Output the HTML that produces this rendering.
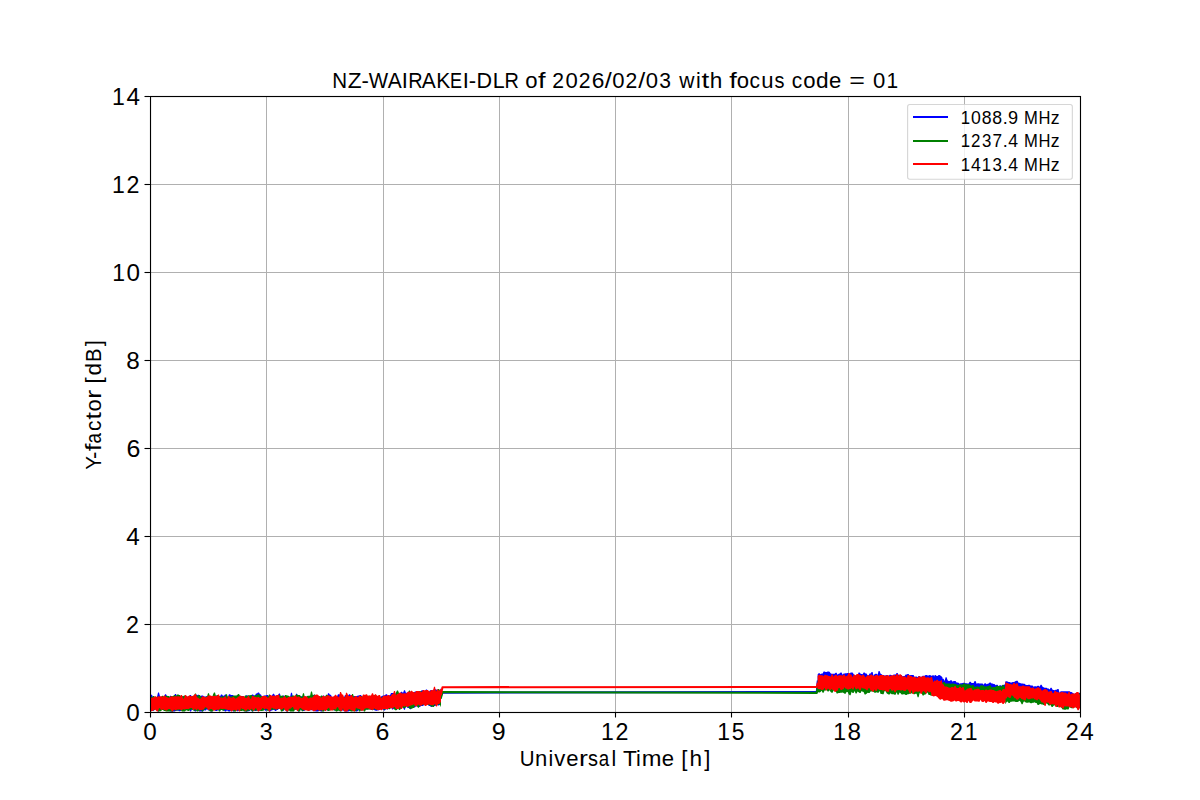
<!DOCTYPE html>
<html><head><meta charset="utf-8">
<style>
html,body{margin:0;padding:0;background:#fff;}
svg{display:block;}
text{font-family:"Liberation Sans",sans-serif;fill:#000;}
</style></head><body>
<svg width="1200" height="800" viewBox="0 0 1200 800">
<rect x="0" y="0" width="1200" height="800" fill="#fff"/>
<g shape-rendering="crispEdges">
<rect x="266" y="96" width="1" height="616" fill="#b0b0b0"/>
<rect x="383" y="96" width="1" height="616" fill="#b0b0b0"/>
<rect x="499" y="96" width="1" height="616" fill="#b0b0b0"/>
<rect x="615" y="96" width="1" height="616" fill="#b0b0b0"/>
<rect x="731" y="96" width="1" height="616" fill="#b0b0b0"/>
<rect x="848" y="96" width="1" height="616" fill="#b0b0b0"/>
<rect x="964" y="96" width="1" height="616" fill="#b0b0b0"/>
<rect x="150" y="624" width="930" height="1" fill="#b0b0b0"/>
<rect x="150" y="536" width="930" height="1" fill="#b0b0b0"/>
<rect x="150" y="448" width="930" height="1" fill="#b0b0b0"/>
<rect x="150" y="360" width="930" height="1" fill="#b0b0b0"/>
<rect x="150" y="272" width="930" height="1" fill="#b0b0b0"/>
<rect x="150" y="184" width="930" height="1" fill="#b0b0b0"/>
</g>
<clipPath id="ax"><rect x="150" y="96" width="930" height="616"/></clipPath>
<g clip-path="url(#ax)">
<path d="M149.0,695.2L150.0,695.2L151.0,694.8L152.0,694.8L153.0,697.2L154.0,697.0L155.0,697.0L156.0,697.0L157.0,697.0L158.0,692.6L159.0,692.6L160.0,696.2L161.0,697.0L162.0,697.2L163.0,697.7L164.0,697.0L165.0,694.3L166.0,694.3L167.0,696.2L168.0,696.2L169.0,697.7L170.0,695.8L171.0,695.8L172.0,697.0L173.0,696.9L174.0,695.8L175.0,693.9L176.0,693.9L177.0,696.2L178.0,694.7L179.0,694.7L180.0,697.1L181.0,696.0L182.0,696.0L183.0,696.4L184.0,696.3L185.0,696.3L186.0,695.9L187.0,695.9L188.0,698.3L189.0,696.2L190.0,694.9L191.0,694.9L192.0,697.2L193.0,696.1L194.0,696.1L195.0,694.6L196.0,694.6L197.0,695.3L198.0,694.8L199.0,694.8L200.0,696.5L201.0,695.7L202.0,695.5L203.0,695.5L204.0,696.5L205.0,696.4L206.0,696.4L207.0,696.1L208.0,696.1L209.0,696.6L210.0,697.0L211.0,697.0L212.0,696.7L213.0,696.7L214.0,698.5L215.0,696.3L216.0,695.5L217.0,695.5L218.0,697.4L219.0,696.4L220.0,696.4L221.0,694.4L222.0,694.4L223.0,695.8L224.0,695.8L225.0,694.6L226.0,694.6L227.0,696.5L228.0,696.6L229.0,694.2L230.0,694.2L231.0,695.1L232.0,694.9L233.0,694.9L234.0,695.9L235.0,696.9L236.0,697.3L237.0,695.0L238.0,695.0L239.0,697.8L240.0,696.8L241.0,696.2L242.0,696.0L243.0,696.0L244.0,698.5L245.0,696.8L246.0,695.2L247.0,695.2L248.0,695.7L249.0,696.3L250.0,695.7L251.0,695.7L252.0,694.5L253.0,694.5L254.0,695.4L255.0,695.4L256.0,693.5L257.0,693.5L258.0,692.6L259.0,692.6L260.0,694.3L261.0,694.4L262.0,696.8L263.0,696.8L264.0,695.6L265.0,695.6L266.0,695.3L267.0,695.1L268.0,695.1L269.0,697.4L270.0,697.1L271.0,696.2L272.0,695.6L273.0,693.8L274.0,693.8L275.0,695.7L276.0,695.7L277.0,695.1L278.0,695.1L279.0,693.5L280.0,693.5L281.0,697.9L282.0,697.9L283.0,695.6L284.0,695.6L285.0,696.5L286.0,697.8L287.0,696.9L288.0,696.9L289.0,698.5L290.0,697.2L291.0,692.7L292.0,692.7L293.0,697.8L294.0,697.9L295.0,698.2L296.0,693.8L297.0,693.8L298.0,696.0L299.0,696.3L300.0,696.3L301.0,696.3L302.0,696.3L303.0,697.0L304.0,696.3L305.0,696.3L306.0,696.8L307.0,696.8L308.0,697.2L309.0,695.8L310.0,695.8L311.0,696.4L312.0,695.2L313.0,695.2L314.0,694.8L315.0,694.8L316.0,695.6L317.0,695.6L318.0,696.9L319.0,696.7L320.0,696.5L321.0,696.5L322.0,696.5L323.0,695.5L324.0,695.5L325.0,697.5L326.0,696.8L327.0,696.8L328.0,693.3L329.0,693.3L330.0,694.8L331.0,694.8L332.0,697.6L333.0,697.2L334.0,696.2L335.0,696.2L336.0,696.2L337.0,696.2L338.0,694.2L339.0,694.2L340.0,694.5L341.0,694.5L342.0,696.9L343.0,697.2L344.0,697.2L345.0,694.9L346.0,694.9L347.0,695.2L348.0,695.7L349.0,694.3L350.0,694.3L351.0,695.8L352.0,695.8L353.0,697.1L354.0,696.0L355.0,696.0L356.0,696.1L357.0,696.1L358.0,695.6L359.0,695.6L360.0,694.9L361.0,694.9L362.0,696.6L363.0,697.5L364.0,695.4L365.0,695.4L366.0,697.6L367.0,697.8L368.0,697.9L369.0,697.9L370.0,697.2L371.0,697.2L372.0,695.5L373.0,695.4L374.0,695.4L375.0,696.4L376.0,696.4L377.0,696.7L378.0,696.2L379.0,696.2L380.0,697.2L381.0,696.4L382.0,696.0L383.0,695.6L384.0,695.6L385.0,694.9L386.0,694.2L387.0,694.2L388.0,696.0L389.0,695.2L390.0,695.2L391.0,693.0L392.0,693.0L393.0,693.1L394.0,693.1L395.0,695.0L396.0,692.6L397.0,692.6L398.0,694.7L399.0,694.1L400.0,694.1L401.0,691.7L402.0,691.7L403.0,693.0L404.0,690.3L405.0,690.3L406.0,693.1L407.0,692.4L408.0,692.4L409.0,694.2L410.0,694.2L411.0,694.9L412.0,693.8L413.0,692.8L414.0,692.3L415.0,691.4L416.0,691.4L417.0,692.0L418.0,691.5L419.0,691.5L420.0,691.9L421.0,690.8L422.0,690.3L423.0,690.3L424.0,691.9L425.0,691.1L426.0,689.5L427.0,689.5L428.0,691.7L429.0,691.8L430.0,690.3L431.0,690.3L432.0,690.7L433.0,689.7L434.0,689.7L435.0,689.3L436.0,689.3L437.0,690.0L438.0,690.4L439.0,690.4L440.0,691.0L441.0,688.0L441.0,704.8L440.0,704.8L439.0,705.6L438.0,705.6L437.0,704.3L436.0,705.6L435.0,706.0L434.0,706.0L433.0,706.3L432.0,706.9L431.0,706.9L430.0,705.9L429.0,705.9L428.0,705.0L427.0,704.2L426.0,704.2L425.0,704.2L424.0,705.1L423.0,706.0L422.0,706.0L421.0,706.0L420.0,707.0L419.0,707.0L418.0,706.5L417.0,706.5L416.0,706.3L415.0,707.6L414.0,707.6L413.0,707.1L412.0,707.1L411.0,709.2L410.0,709.2L409.0,708.0L408.0,708.0L407.0,707.5L406.0,705.0L405.0,709.8L404.0,709.8L403.0,706.7L402.0,707.7L401.0,707.7L400.0,706.8L399.0,706.5L398.0,707.4L397.0,708.1L396.0,708.1L395.0,708.3L394.0,708.4L393.0,709.6L392.0,709.6L391.0,706.8L390.0,706.8L389.0,707.5L388.0,709.6L387.0,709.6L386.0,708.2L385.0,710.5L384.0,710.5L383.0,709.3L382.0,709.3L381.0,708.1L380.0,709.5L379.0,710.3L378.0,710.3L377.0,710.8L376.0,710.8L375.0,710.4L374.0,709.9L373.0,709.3L372.0,709.9L371.0,709.9L370.0,709.2L369.0,709.2L368.0,708.9L367.0,709.4L366.0,709.4L365.0,709.0L364.0,709.0L363.0,710.1L362.0,710.4L361.0,710.4L360.0,710.1L359.0,709.4L358.0,710.7L357.0,711.6L356.0,711.6L355.0,711.1L354.0,710.9L353.0,710.5L352.0,708.4L351.0,709.5L350.0,710.8L349.0,711.2L348.0,711.5L347.0,711.5L346.0,711.6L345.0,711.6L344.0,710.7L343.0,710.6L342.0,710.6L341.0,709.9L340.0,709.9L339.0,709.8L338.0,709.2L337.0,707.4L336.0,709.2L335.0,710.4L334.0,710.4L333.0,707.2L332.0,710.1L331.0,710.1L330.0,710.1L329.0,709.3L328.0,710.4L327.0,710.4L326.0,709.7L325.0,710.5L324.0,710.5L323.0,709.7L322.0,711.6L321.0,711.6L320.0,710.9L319.0,710.9L318.0,711.4L317.0,711.6L316.0,711.6L315.0,711.2L314.0,711.2L313.0,710.3L312.0,710.3L311.0,710.2L310.0,709.9L309.0,709.8L308.0,709.8L307.0,709.2L306.0,708.8L305.0,710.6L304.0,710.9L303.0,710.9L302.0,710.7L301.0,710.1L300.0,708.3L299.0,711.6L298.0,711.6L297.0,709.4L296.0,709.4L295.0,709.8L294.0,710.6L293.0,710.6L292.0,711.1L291.0,711.1L290.0,710.4L289.0,710.4L288.0,709.5L287.0,711.6L286.0,711.6L285.0,707.9L284.0,710.4L283.0,710.9L282.0,710.9L281.0,708.9L280.0,707.8L279.0,708.4L278.0,709.9L277.0,709.9L276.0,710.9L275.0,710.9L274.0,709.5L273.0,710.2L272.0,710.2L271.0,711.0L270.0,711.6L269.0,711.6L268.0,709.8L267.0,710.3L266.0,710.7L265.0,710.7L264.0,709.0L263.0,709.0L262.0,708.5L261.0,709.9L260.0,709.9L259.0,710.1L258.0,710.6L257.0,710.6L256.0,710.9L255.0,710.9L254.0,710.3L253.0,711.6L252.0,711.6L251.0,710.0L250.0,710.8L249.0,711.3L248.0,711.3L247.0,711.6L246.0,711.6L245.0,711.0L244.0,710.5L243.0,709.9L242.0,709.6L241.0,709.8L240.0,709.8L239.0,710.3L238.0,711.2L237.0,711.2L236.0,708.9L235.0,709.4L234.0,711.6L233.0,711.6L232.0,710.0L231.0,710.6L230.0,711.6L229.0,711.6L228.0,711.2L227.0,710.3L226.0,711.6L225.0,711.6L224.0,710.5L223.0,710.5L222.0,709.9L221.0,708.8L220.0,708.7L219.0,710.3L218.0,710.3L217.0,710.9L216.0,710.9L215.0,710.8L214.0,709.6L213.0,710.2L212.0,711.6L211.0,711.6L210.0,710.2L209.0,710.6L208.0,710.6L207.0,709.0L206.0,710.4L205.0,710.4L204.0,710.3L203.0,711.4L202.0,711.4L201.0,711.6L200.0,711.6L199.0,711.6L198.0,709.7L197.0,709.7L196.0,711.4L195.0,711.4L194.0,710.8L193.0,709.4L192.0,709.4L191.0,711.4L190.0,711.4L189.0,708.4L188.0,709.5L187.0,709.5L186.0,709.4L185.0,710.8L184.0,710.8L183.0,710.7L182.0,709.6L181.0,710.8L180.0,711.2L179.0,711.2L178.0,710.5L177.0,710.7L176.0,710.7L175.0,711.6L174.0,711.6L173.0,711.6L172.0,711.6L171.0,711.6L170.0,711.6L169.0,711.1L168.0,710.0L167.0,710.0L166.0,709.2L165.0,708.7L164.0,708.3L163.0,709.8L162.0,709.8L161.0,708.1L160.0,709.2L159.0,711.6L158.0,711.6L157.0,708.6L156.0,708.6L155.0,709.3L154.0,710.8L153.0,710.8L152.0,709.7L151.0,710.8L150.0,711.6L149.0,711.6ZM817.6,674.4L818.6,673.2L819.6,673.2L820.6,674.2L821.6,673.4L822.6,673.4L823.6,671.6L824.6,671.6L825.6,672.0L826.6,672.0L827.6,671.5L828.6,671.5L829.6,671.8L830.6,673.3L831.6,673.7L832.6,673.8L833.6,673.8L834.6,673.8L835.6,672.7L836.6,672.7L837.6,674.7L838.6,673.7L839.6,673.6L840.6,672.6L841.6,672.6L842.6,674.8L843.6,673.6L844.6,673.5L845.6,673.2L846.6,673.2L847.6,672.9L848.6,672.9L849.6,673.9L850.6,672.5L851.6,672.5L852.6,672.6L853.6,674.0L854.6,675.6L855.6,675.3L856.6,675.3L857.6,674.9L858.6,672.4L859.6,672.4L860.6,673.7L861.6,674.1L862.6,674.3L863.6,672.6L864.6,672.6L865.6,673.6L866.6,673.6L867.6,675.3L868.6,675.3L869.6,673.6L870.6,673.6L871.6,672.1L872.6,672.1L873.6,675.9L874.6,673.9L875.6,673.8L876.6,673.8L877.6,674.8L878.6,671.1L879.6,671.1L880.6,673.8L881.6,674.3L882.6,674.9L883.6,674.9L884.6,675.6L885.6,675.6L886.6,674.9L887.6,674.9L888.6,676.2L889.6,674.8L890.6,674.8L891.6,675.3L892.6,675.5L893.6,674.5L894.6,674.5L895.6,674.5L896.6,672.9L897.6,672.9L898.6,674.7L899.6,675.8L900.6,675.1L901.6,675.1L902.6,676.4L903.6,676.1L904.6,676.1L905.6,674.4L906.6,674.4L907.6,674.1L908.6,674.1L909.6,675.5L910.6,674.9L911.6,674.9L912.6,674.9L913.6,674.9L914.6,677.1L915.6,676.6L916.6,676.6L917.6,677.3L918.6,676.1L919.6,676.1L920.6,676.8L921.6,677.1L922.6,675.8L923.6,675.7L924.6,675.7L925.6,675.1L926.6,675.1L927.6,675.4L928.6,675.4L929.6,675.0L930.5,675.0L930.6,675.5L931.6,675.7L932.0,675.7L932.6,675.2L933.6,675.2L933.8,675.5L934.4,676.4L934.6,674.9L935.6,674.9L936.6,676.0L937.6,676.0L938.6,674.9L939.6,674.9L940.6,675.8L941.0,675.8L941.6,676.5L942.5,677.4L942.6,678.8L943.6,678.8L944.6,681.1L945.6,677.2L946.6,677.2L947.6,680.3L948.6,680.9L949.6,680.9L950.6,680.3L951.6,680.3L952.6,681.8L953.6,680.9L954.6,680.9L955.6,681.1L956.6,682.4L957.6,682.4L958.6,682.8L959.6,683.8L960.6,683.2L961.6,683.2L962.6,683.1L963.6,682.8L964.6,682.8L965.6,683.2L966.6,683.2L967.6,683.5L968.6,683.5L969.6,681.7L970.6,681.7L971.6,683.0L972.6,682.9L973.6,682.9L974.6,680.9L975.6,680.9L976.6,683.7L977.6,683.2L978.6,683.2L979.6,683.6L980.6,683.6L981.6,683.4L982.6,683.4L983.6,684.7L984.6,683.2L985.6,683.2L986.6,684.2L987.6,683.8L988.6,683.6L989.6,682.5L990.6,682.5L991.6,683.5L992.6,683.5L993.6,684.1L994.6,684.1L995.6,685.2L996.6,684.7L997.6,684.7L998.6,686.4L999.6,685.2L1000.6,685.2L1001.6,685.7L1002.6,684.9L1003.6,684.9L1004.6,684.5L1004.8,684.5L1005.4,681.5L1005.6,681.2L1006.6,681.2L1007.6,681.6L1008.6,681.9L1009.6,682.0L1010.6,682.4L1011.6,682.4L1012.6,681.9L1013.6,681.9L1014.6,681.8L1015.6,681.0L1016.6,680.8L1017.6,680.8L1018.6,682.7L1019.6,682.7L1020.6,683.3L1021.6,683.4L1022.6,683.6L1023.6,683.7L1024.6,683.7L1025.6,684.8L1026.6,685.0L1027.6,685.0L1028.6,684.8L1029.6,684.8L1030.6,685.6L1031.6,685.4L1032.6,685.4L1033.6,686.8L1034.6,686.2L1035.6,686.2L1036.6,686.4L1037.6,685.7L1038.6,685.7L1039.6,686.8L1040.6,684.7L1041.6,684.7L1042.6,686.7L1043.6,687.2L1044.6,687.7L1045.6,687.7L1046.6,687.7L1047.6,688.4L1048.6,688.4L1049.6,689.6L1050.6,687.7L1051.6,687.7L1052.6,689.7L1053.6,689.9L1054.6,690.3L1055.6,689.7L1056.6,689.7L1057.6,689.0L1058.6,689.0L1059.6,693.0L1060.6,691.2L1061.6,691.2L1062.6,691.3L1063.6,691.3L1064.6,691.3L1065.6,691.3L1066.6,691.2L1067.6,691.2L1068.6,691.3L1069.6,691.3L1070.6,691.9L1071.6,691.9L1072.6,692.7L1073.6,693.6L1074.6,694.1L1075.6,692.9L1076.6,692.9L1077.6,693.1L1078.6,693.1L1079.6,692.7L1080.6,692.7L1080.6,707.2L1079.6,704.7L1078.6,706.9L1077.6,707.0L1076.6,707.0L1075.6,706.2L1074.6,706.1L1073.6,706.1L1072.6,705.7L1071.6,705.7L1070.6,705.5L1069.6,705.3L1068.6,705.1L1067.6,704.0L1066.6,704.5L1065.6,705.0L1064.6,705.5L1063.6,705.5L1062.6,702.5L1061.6,703.1L1060.6,704.1L1059.6,704.1L1058.6,704.8L1057.6,704.8L1056.6,704.6L1055.6,703.1L1054.6,703.4L1053.6,704.6L1052.6,705.4L1051.6,705.4L1050.6,702.5L1049.6,703.5L1048.6,703.5L1047.6,700.1L1046.6,700.7L1045.6,700.8L1044.6,702.2L1043.6,702.2L1042.6,699.6L1041.6,702.5L1040.6,702.5L1039.6,699.1L1038.6,699.7L1037.6,700.9L1036.6,701.0L1035.6,701.0L1034.6,700.0L1033.6,700.0L1032.6,698.5L1031.6,698.9L1030.6,699.3L1029.6,699.3L1028.6,698.8L1027.6,696.8L1026.6,697.7L1025.6,697.7L1024.6,699.4L1023.6,699.4L1022.6,696.3L1021.6,696.4L1020.6,696.5L1019.6,698.0L1018.6,698.0L1017.6,697.2L1016.6,695.3L1015.6,696.8L1014.6,696.8L1013.6,694.5L1012.6,695.3L1011.6,695.3L1010.6,696.9L1009.6,696.9L1008.6,693.6L1007.6,693.6L1006.6,693.4L1005.6,694.4L1005.4,696.1L1004.8,697.0L1004.6,697.1L1003.6,697.8L1002.6,698.1L1001.6,698.9L1000.6,698.9L999.6,700.5L998.6,700.5L997.6,698.7L996.6,698.6L995.6,698.9L994.6,698.9L993.6,698.6L992.6,696.9L991.6,697.5L990.6,697.5L989.6,697.1L988.6,696.8L987.6,696.0L986.6,696.0L985.6,695.9L984.6,695.9L983.6,697.4L982.6,697.4L981.6,696.9L980.6,695.5L979.6,695.2L978.6,695.9L977.6,695.9L976.6,695.4L975.6,696.6L974.6,697.5L973.6,697.5L972.6,696.0L971.6,697.3L970.6,697.3L969.6,696.1L968.6,697.8L967.6,697.8L966.6,695.1L965.6,698.3L964.6,698.3L963.6,695.9L962.6,695.9L961.6,694.9L960.6,694.2L959.6,692.6L958.6,692.8L957.6,692.8L956.6,692.2L955.6,692.8L954.6,692.8L953.6,692.8L952.6,692.2L951.6,692.3L950.6,692.3L949.6,693.8L948.6,693.8L947.6,690.9L946.6,690.9L945.6,690.7L944.6,692.2L943.6,692.2L942.6,690.0L942.5,692.0L941.6,692.0L941.0,687.4L940.6,687.4L939.6,690.7L938.6,690.7L937.6,689.4L936.6,688.2L935.6,689.9L934.6,689.9L934.4,690.5L933.8,690.5L933.6,688.8L932.6,688.8L932.0,688.8L931.6,688.4L930.6,688.4L930.5,689.7L929.6,689.7L928.6,689.1L927.6,690.7L926.6,690.7L925.6,687.9L924.6,687.9L923.6,689.1L922.6,689.1L921.6,688.0L920.6,690.0L919.6,690.0L918.6,688.5L917.6,688.2L916.6,689.2L915.6,689.7L914.6,689.7L913.6,689.2L912.6,689.2L911.6,687.7L910.6,689.3L909.6,689.8L908.6,689.8L907.6,688.5L906.6,688.0L905.6,687.3L904.6,690.9L903.6,690.9L902.6,687.9L901.6,687.7L900.6,689.0L899.6,689.0L898.6,686.4L897.6,687.9L896.6,689.0L895.6,689.0L894.6,688.4L893.6,686.7L892.6,687.7L891.6,687.7L890.6,687.9L889.6,687.9L888.6,685.6L887.6,686.1L886.6,686.6L885.6,686.6L884.6,686.1L883.6,688.5L882.6,688.5L881.6,687.6L880.6,687.6L879.6,686.9L878.6,687.5L877.6,687.7L876.6,687.7L875.6,687.1L874.6,687.1L873.6,685.9L872.6,685.9L871.6,688.2L870.6,688.7L869.6,688.7L868.6,687.8L867.6,688.4L866.6,688.4L865.6,687.9L864.6,687.9L863.6,687.5L862.6,687.3L861.6,687.3L860.6,687.2L859.6,687.2L858.6,688.4L857.6,688.4L856.6,686.7L855.6,686.7L854.6,687.3L853.6,687.3L852.6,687.8L851.6,687.8L850.6,689.0L849.6,689.0L848.6,686.9L847.6,688.5L846.6,688.5L845.6,687.6L844.6,685.7L843.6,686.2L842.6,687.7L841.6,687.7L840.6,687.3L839.6,688.4L838.6,688.4L837.6,686.4L836.6,687.2L835.6,687.2L834.6,686.9L833.6,686.1L832.6,688.0L831.6,688.0L830.6,688.5L829.6,688.5L828.6,686.9L827.6,685.1L826.6,685.2L825.6,685.9L824.6,686.6L823.6,686.6L822.6,686.3L821.6,686.0L820.6,686.0L819.6,687.6L818.6,687.6L817.6,686.5Z" fill="#0000ff"/>
<path d="M440.7,696.4L442.5,692.6L816.8,691.9L817.8,680.5" fill="none" stroke="#0000ff" stroke-width="2.08" stroke-linejoin="round"/>
<path d="M149.0,698.7L150.0,696.6L151.0,696.6L152.0,697.4L153.0,695.9L154.0,695.9L155.0,696.9L156.0,697.3L157.0,696.7L158.0,696.7L159.0,698.2L160.0,697.6L161.0,697.6L162.0,695.7L163.0,695.7L164.0,696.8L165.0,696.7L166.0,695.8L167.0,695.8L168.0,695.9L169.0,695.9L170.0,697.2L171.0,696.1L172.0,696.1L173.0,696.2L174.0,694.9L175.0,694.9L176.0,696.5L177.0,694.4L178.0,694.4L179.0,695.1L180.0,695.1L181.0,696.3L182.0,696.3L183.0,696.6L184.0,695.6L185.0,695.6L186.0,697.0L187.0,697.0L188.0,696.4L189.0,695.9L190.0,695.9L191.0,697.0L192.0,696.3L193.0,695.7L194.0,695.7L195.0,693.6L196.0,693.6L197.0,696.8L198.0,695.4L199.0,695.0L200.0,695.0L201.0,696.9L202.0,696.9L203.0,697.7L204.0,697.9L205.0,697.9L206.0,696.6L207.0,696.4L208.0,693.2L209.0,693.2L210.0,697.1L211.0,697.1L212.0,697.7L213.0,694.6L214.0,692.5L215.0,692.5L216.0,696.3L217.0,694.9L218.0,694.9L219.0,696.0L220.0,696.0L221.0,697.6L222.0,696.1L223.0,696.1L224.0,697.3L225.0,696.2L226.0,694.3L227.0,694.3L228.0,698.1L229.0,696.3L230.0,696.3L231.0,697.1L232.0,695.9L233.0,695.9L234.0,695.6L235.0,695.6L236.0,695.6L237.0,695.6L238.0,694.0L239.0,694.0L240.0,695.7L241.0,695.7L242.0,696.7L243.0,697.5L244.0,697.3L245.0,695.6L246.0,695.6L247.0,696.5L248.0,695.3L249.0,695.2L250.0,695.2L251.0,695.0L252.0,695.0L253.0,697.0L254.0,696.1L255.0,695.1L256.0,695.1L257.0,695.6L258.0,694.0L259.0,694.0L260.0,695.8L261.0,695.8L262.0,696.8L263.0,695.9L264.0,695.9L265.0,696.1L266.0,696.4L267.0,696.4L268.0,696.7L269.0,694.5L270.0,694.5L271.0,696.2L272.0,698.0L273.0,695.9L274.0,695.9L275.0,696.4L276.0,698.1L277.0,697.7L278.0,697.4L279.0,695.3L280.0,695.3L281.0,695.9L282.0,695.5L283.0,695.5L284.0,697.5L285.0,694.9L286.0,694.9L287.0,695.5L288.0,695.5L289.0,696.0L290.0,696.8L291.0,696.8L292.0,695.6L293.0,695.4L294.0,695.4L295.0,696.5L296.0,694.6L297.0,694.6L298.0,695.0L299.0,694.9L300.0,694.9L301.0,696.7L302.0,696.7L303.0,693.3L304.0,693.3L305.0,698.3L306.0,697.7L307.0,696.0L308.0,695.8L309.0,695.8L310.0,696.1L311.0,691.4L312.0,691.4L313.0,696.1L314.0,694.6L315.0,694.6L316.0,698.1L317.0,696.1L318.0,696.1L319.0,697.1L320.0,697.8L321.0,695.5L322.0,695.5L323.0,696.4L324.0,696.4L325.0,697.0L326.0,694.7L327.0,694.7L328.0,695.4L329.0,695.4L330.0,697.1L331.0,697.1L332.0,697.0L333.0,697.0L334.0,698.0L335.0,696.2L336.0,696.2L337.0,698.2L338.0,698.2L339.0,698.2L340.0,698.7L341.0,699.0L342.0,697.3L343.0,697.3L344.0,698.6L345.0,696.7L346.0,696.7L347.0,697.2L348.0,697.2L349.0,698.0L350.0,698.8L351.0,698.8L352.0,694.1L353.0,694.1L354.0,696.9L355.0,698.2L356.0,699.2L357.0,698.0L358.0,698.0L359.0,697.9L360.0,696.0L361.0,696.0L362.0,696.4L363.0,696.4L364.0,697.1L365.0,697.1L366.0,696.6L367.0,696.6L368.0,695.8L369.0,695.8L370.0,695.8L371.0,698.8L372.0,696.2L373.0,695.5L374.0,695.5L375.0,694.8L376.0,694.8L377.0,696.7L378.0,695.7L379.0,695.7L380.0,697.9L381.0,697.4L382.0,697.4L383.0,696.2L384.0,696.2L385.0,696.2L386.0,697.5L387.0,695.9L388.0,695.9L389.0,696.4L390.0,696.4L391.0,697.6L392.0,694.4L393.0,694.0L394.0,694.0L395.0,695.2L396.0,692.6L397.0,690.4L398.0,690.4L399.0,693.0L400.0,693.0L401.0,694.1L402.0,693.7L403.0,693.7L404.0,694.5L405.0,694.5L406.0,695.3L407.0,695.3L408.0,693.3L409.0,690.4L410.0,690.4L411.0,693.6L412.0,692.4L413.0,692.4L414.0,694.2L415.0,693.6L416.0,692.4L417.0,692.4L418.0,692.2L419.0,691.1L420.0,691.1L421.0,691.5L422.0,691.8L423.0,691.8L424.0,692.4L425.0,692.4L426.0,692.4L427.0,693.1L428.0,693.5L429.0,693.5L430.0,693.1L431.0,693.1L432.0,693.2L433.0,693.9L434.0,691.5L435.0,691.0L436.0,691.0L437.0,691.3L438.0,689.1L439.0,689.1L440.0,690.6L441.0,690.4L441.0,707.2L440.0,705.1L439.0,704.5L438.0,704.5L437.0,705.3L436.0,705.3L435.0,704.1L434.0,706.9L433.0,706.9L432.0,706.5L431.0,706.5L430.0,705.3L429.0,705.3L428.0,704.7L427.0,704.7L426.0,705.3L425.0,705.3L424.0,704.6L423.0,704.6L422.0,705.6L421.0,705.6L420.0,703.9L419.0,707.7L418.0,707.7L417.0,706.2L416.0,704.3L415.0,705.5L414.0,708.1L413.0,708.1L412.0,708.8L411.0,708.8L410.0,708.4L409.0,708.4L408.0,705.7L407.0,706.0L406.0,707.4L405.0,707.7L404.0,708.2L403.0,708.2L402.0,706.4L401.0,708.6L400.0,710.1L399.0,710.1L398.0,708.3L397.0,710.1L396.0,710.3L395.0,710.3L394.0,708.9L393.0,707.5L392.0,707.9L391.0,707.9L390.0,709.3L389.0,709.3L388.0,708.5L387.0,708.5L386.0,709.6L385.0,709.6L384.0,709.5L383.0,708.9L382.0,708.9L381.0,708.9L380.0,709.5L379.0,709.5L378.0,707.5L377.0,710.0L376.0,710.0L375.0,709.0L374.0,708.9L373.0,710.3L372.0,710.3L371.0,709.1L370.0,709.4L369.0,709.4L368.0,709.7L367.0,709.7L366.0,709.6L365.0,711.6L364.0,711.6L363.0,709.9L362.0,710.2L361.0,710.2L360.0,711.6L359.0,711.6L358.0,709.1L357.0,710.0L356.0,710.9L355.0,711.3L354.0,711.3L353.0,711.2L352.0,711.6L351.0,711.6L350.0,711.0L349.0,710.0L348.0,709.3L347.0,710.1L346.0,710.1L345.0,710.8L344.0,710.8L343.0,709.5L342.0,709.5L341.0,711.4L340.0,711.4L339.0,710.7L338.0,710.7L337.0,711.6L336.0,711.6L335.0,710.6L334.0,710.2L333.0,710.2L332.0,709.9L331.0,709.9L330.0,710.6L329.0,711.0L328.0,711.0L327.0,709.9L326.0,709.3L325.0,709.3L324.0,711.6L323.0,711.6L322.0,711.4L321.0,708.8L320.0,710.9L319.0,710.9L318.0,709.4L317.0,709.0L316.0,708.2L315.0,708.4L314.0,710.0L313.0,710.0L312.0,709.0L311.0,710.1L310.0,710.2L309.0,710.6L308.0,710.6L307.0,709.9L306.0,709.9L305.0,709.8L304.0,709.8L303.0,711.3L302.0,711.3L301.0,709.2L300.0,711.6L299.0,711.6L298.0,711.3L297.0,709.5L296.0,709.5L295.0,709.5L294.0,711.6L293.0,711.6L292.0,711.6L291.0,711.6L290.0,711.6L289.0,710.1L288.0,711.6L287.0,711.6L286.0,710.2L285.0,710.2L284.0,709.1L283.0,711.1L282.0,711.6L281.0,711.6L280.0,708.6L279.0,708.6L278.0,708.9L277.0,709.4L276.0,709.4L275.0,709.4L274.0,709.4L273.0,709.7L272.0,709.7L271.0,709.7L270.0,710.1L269.0,710.4L268.0,710.8L267.0,710.8L266.0,708.2L265.0,709.3L264.0,710.6L263.0,710.7L262.0,711.0L261.0,711.0L260.0,710.7L259.0,710.7L258.0,710.4L257.0,710.5L256.0,710.5L255.0,710.6L254.0,710.6L253.0,711.5L252.0,711.5L251.0,710.1L250.0,710.1L249.0,710.7L248.0,710.7L247.0,711.4L246.0,711.4L245.0,711.6L244.0,711.6L243.0,710.6L242.0,711.1L241.0,711.1L240.0,711.1L239.0,710.4L238.0,710.4L237.0,709.1L236.0,711.6L235.0,711.6L234.0,711.6L233.0,710.2L232.0,709.7L231.0,709.1L230.0,708.1L229.0,710.0L228.0,710.0L227.0,709.3L226.0,709.4L225.0,709.4L224.0,710.7L223.0,710.7L222.0,710.1L221.0,710.1L220.0,711.6L219.0,711.6L218.0,709.4L217.0,709.7L216.0,709.7L215.0,709.5L214.0,709.0L213.0,711.6L212.0,711.6L211.0,711.6L210.0,711.6L209.0,710.6L208.0,709.3L207.0,708.4L206.0,708.4L205.0,709.5L204.0,709.5L203.0,711.4L202.0,711.4L201.0,709.6L200.0,710.5L199.0,710.5L198.0,711.6L197.0,711.6L196.0,710.2L195.0,710.8L194.0,710.8L193.0,710.3L192.0,709.4L191.0,709.4L190.0,709.9L189.0,710.9L188.0,710.9L187.0,710.5L186.0,710.3L185.0,711.6L184.0,711.6L183.0,711.6L182.0,711.6L181.0,710.6L180.0,709.9L179.0,709.9L178.0,710.5L177.0,710.5L176.0,710.5L175.0,710.5L174.0,709.5L173.0,711.5L172.0,711.6L171.0,711.6L170.0,711.3L169.0,711.6L168.0,711.6L167.0,711.6L166.0,711.6L165.0,710.9L164.0,710.9L163.0,710.0L162.0,710.1L161.0,711.2L160.0,711.2L159.0,711.6L158.0,711.6L157.0,710.2L156.0,710.2L155.0,708.8L154.0,710.3L153.0,710.3L152.0,710.2L151.0,709.1L150.0,710.7L149.0,710.7ZM817.6,680.5L818.6,679.8L819.6,679.8L820.6,680.0L821.6,680.0L822.6,678.0L823.6,678.0L824.6,678.3L825.6,678.9L826.6,679.0L827.6,679.7L828.6,679.2L829.6,679.2L830.6,679.9L831.6,680.0L832.6,679.6L833.6,679.6L834.6,680.8L835.6,681.2L836.6,681.2L837.6,680.5L838.6,680.5L839.6,681.3L840.6,680.8L841.6,680.7L842.6,678.9L843.6,678.9L844.6,681.3L845.6,681.3L846.6,682.0L847.6,682.0L848.6,680.8L849.6,680.8L850.6,681.5L851.6,680.5L852.6,680.5L853.6,680.2L854.6,680.2L855.6,682.4L856.6,682.0L857.6,682.0L858.6,681.4L859.6,681.4L860.6,682.8L861.6,680.2L862.6,680.2L863.6,680.8L864.6,680.8L865.6,680.8L866.6,680.1L867.6,680.1L868.6,680.1L869.6,680.1L870.6,680.2L871.6,680.3L872.6,680.3L873.6,680.1L874.6,680.1L875.6,681.3L876.6,683.0L877.6,680.5L878.6,680.5L879.6,681.2L880.6,681.2L881.6,680.2L882.6,680.2L883.6,681.0L884.6,681.2L885.6,681.8L886.6,680.2L887.6,680.2L888.6,682.3L889.6,680.0L890.6,680.0L891.6,680.1L892.6,681.4L893.6,681.4L894.6,681.5L895.6,679.2L896.6,679.2L897.6,680.8L898.6,682.6L899.6,681.7L900.6,681.7L901.6,681.9L902.6,682.0L903.6,682.0L904.6,682.2L905.6,682.2L906.6,682.1L907.6,678.0L908.6,678.0L909.6,679.5L910.6,682.0L911.6,680.5L912.6,680.1L913.6,680.1L914.6,680.2L915.6,680.2L916.6,682.2L917.6,682.2L918.6,683.3L919.6,683.1L920.6,681.2L921.6,681.2L922.6,682.3L923.6,683.2L924.6,683.2L925.6,683.7L926.6,682.9L927.6,682.9L928.6,683.0L929.6,683.0L930.5,681.8L930.6,681.8L931.6,682.4L932.0,682.4L932.6,682.3L933.6,682.3L933.8,682.9L934.4,682.9L934.6,683.2L935.6,683.2L936.6,682.7L937.6,682.7L938.6,684.3L939.6,684.9L940.6,684.9L941.0,683.3L941.6,683.3L942.5,682.9L942.6,682.7L943.6,682.0L944.6,682.0L945.6,683.4L946.6,683.4L947.6,683.5L948.6,683.5L949.6,683.5L950.6,683.7L951.6,683.7L952.6,683.4L953.6,683.4L954.6,684.1L955.6,684.1L956.6,684.5L957.6,685.1L958.6,684.7L959.6,684.3L960.6,684.3L961.6,684.5L962.6,684.5L963.6,683.3L964.6,683.3L965.6,684.2L966.6,684.2L967.6,684.2L968.6,684.2L969.6,684.2L970.6,685.5L971.6,685.5L972.6,685.1L973.6,685.1L974.6,687.1L975.6,687.1L976.6,686.2L977.6,686.2L978.6,686.7L979.6,686.9L980.6,685.2L981.6,685.2L982.6,685.6L983.6,685.6L984.6,686.4L985.6,686.4L986.6,686.5L987.6,686.0L988.6,686.0L989.6,685.3L990.6,685.3L991.6,687.5L992.6,687.1L993.6,687.1L994.6,686.9L995.6,686.9L996.6,685.8L997.6,685.8L998.6,686.0L999.6,686.0L1000.6,686.3L1001.6,686.5L1002.6,684.7L1003.6,684.7L1004.6,687.0L1004.8,687.0L1005.4,687.1L1005.6,687.2L1006.6,687.5L1007.6,687.5L1008.6,687.6L1009.6,687.6L1010.6,688.2L1011.6,686.8L1012.6,686.8L1013.6,687.7L1014.6,687.7L1015.6,687.7L1016.6,687.7L1017.6,688.0L1018.6,688.0L1019.6,688.7L1020.6,688.7L1021.6,689.6L1022.6,689.6L1023.6,687.8L1024.6,687.8L1025.6,689.4L1026.6,688.9L1027.6,688.9L1028.6,689.7L1029.6,690.2L1030.6,690.2L1031.6,689.6L1032.6,689.6L1033.6,690.1L1034.6,690.9L1035.6,689.1L1036.6,689.1L1037.6,689.9L1038.6,691.0L1039.6,691.3L1040.6,691.5L1041.6,692.3L1042.6,691.4L1043.6,691.4L1044.6,693.2L1045.6,693.5L1046.6,694.0L1047.6,693.7L1048.6,692.3L1049.6,692.3L1050.6,693.5L1051.6,693.5L1052.6,693.3L1053.6,693.3L1054.6,694.3L1055.6,693.0L1056.6,693.0L1057.6,693.8L1058.6,695.1L1059.6,695.2L1060.6,695.2L1061.6,695.6L1062.6,696.7L1063.6,694.7L1064.6,694.7L1065.6,696.4L1066.6,696.4L1067.6,695.8L1068.6,695.8L1069.6,695.9L1070.6,695.9L1071.6,694.2L1072.6,694.2L1073.6,695.6L1074.6,694.5L1075.6,694.2L1076.6,694.2L1077.6,694.4L1078.6,693.9L1079.6,693.6L1080.6,693.6L1080.6,706.0L1079.6,705.7L1078.6,707.1L1077.6,708.1L1076.6,708.1L1075.6,707.4L1074.6,706.4L1073.6,708.2L1072.6,708.2L1071.6,708.2L1070.6,708.0L1069.6,706.4L1068.6,709.6L1067.6,709.6L1066.6,709.3L1065.6,709.8L1064.6,709.8L1063.6,709.6L1062.6,709.6L1061.6,708.0L1060.6,707.1L1059.6,707.1L1058.6,706.3L1057.6,707.0L1056.6,707.0L1055.6,706.0L1054.6,705.2L1053.6,705.8L1052.6,707.0L1051.6,707.0L1050.6,705.0L1049.6,705.6L1048.6,705.6L1047.6,704.2L1046.6,703.3L1045.6,704.4L1044.6,705.0L1043.6,705.0L1042.6,704.5L1041.6,704.5L1040.6,704.0L1039.6,704.3L1038.6,705.0L1037.6,705.0L1036.6,703.1L1035.6,703.1L1034.6,702.2L1033.6,702.8L1032.6,702.8L1031.6,703.3L1030.6,703.3L1029.6,702.4L1028.6,702.6L1027.6,702.8L1026.6,702.8L1025.6,702.4L1024.6,701.4L1023.6,701.8L1022.6,704.3L1021.6,704.3L1020.6,701.9L1019.6,700.8L1018.6,701.6L1017.6,701.9L1016.6,702.0L1015.6,702.0L1014.6,701.6L1013.6,701.6L1012.6,701.5L1011.6,701.7L1010.6,701.7L1009.6,702.9L1008.6,702.9L1007.6,701.4L1006.6,701.9L1005.6,703.9L1005.4,703.9L1004.8,698.1L1004.6,698.5L1003.6,698.5L1002.6,698.1L1001.6,698.7L1000.6,698.7L999.6,698.5L998.6,698.9L997.6,698.9L996.6,700.5L995.6,700.5L994.6,699.3L993.6,699.3L992.6,698.8L991.6,698.6L990.6,698.3L989.6,698.6L988.6,698.6L987.6,698.6L986.6,698.6L985.6,697.5L984.6,697.5L983.6,697.6L982.6,697.6L981.6,696.2L980.6,696.2L979.6,699.3L978.6,699.3L977.6,698.0L976.6,698.0L975.6,697.0L974.6,697.9L973.6,697.9L972.6,700.4L971.6,700.4L970.6,696.8L969.6,698.7L968.6,698.7L967.6,695.9L966.6,696.7L965.6,698.1L964.6,698.1L963.6,697.9L962.6,697.9L961.6,696.2L960.6,696.2L959.6,695.5L958.6,695.9L957.6,697.2L956.6,697.2L955.6,695.8L954.6,695.3L953.6,695.5L952.6,695.5L951.6,695.9L950.6,695.9L949.6,695.1L948.6,695.5L947.6,695.5L946.6,696.4L945.6,696.4L944.6,696.5L943.6,696.5L942.6,696.5L942.5,696.5L941.6,695.1L941.0,694.4L940.6,694.4L939.6,693.5L938.6,694.5L937.6,695.0L936.6,695.8L935.6,695.8L934.6,693.8L934.4,695.7L933.8,695.7L933.6,694.8L932.6,692.9L932.0,693.0L931.6,695.9L930.6,695.9L930.5,694.9L929.6,695.1L928.6,695.1L927.6,692.5L926.6,693.0L925.6,694.6L924.6,694.6L923.6,695.5L922.6,695.5L921.6,693.3L920.6,692.6L919.6,693.2L918.6,697.2L917.6,697.2L916.6,693.8L915.6,693.8L914.6,694.3L913.6,694.3L912.6,693.4L911.6,693.3L910.6,693.8L909.6,693.8L908.6,694.3L907.6,694.3L906.6,695.1L905.6,695.1L904.6,694.2L903.6,694.2L902.6,694.5L901.6,694.5L900.6,693.3L899.6,692.5L898.6,694.7L897.6,694.7L896.6,692.2L895.6,694.8L894.6,694.8L893.6,694.3L892.6,694.3L891.6,694.2L890.6,693.3L889.6,694.6L888.6,694.6L887.6,694.0L886.6,693.3L885.6,691.3L884.6,690.9L883.6,694.2L882.6,694.2L881.6,694.0L880.6,694.0L879.6,691.1L878.6,692.7L877.6,692.7L876.6,692.2L875.6,692.8L874.6,692.8L873.6,692.1L872.6,691.4L871.6,691.5L870.6,691.5L869.6,693.1L868.6,693.1L867.6,692.7L866.6,693.8L865.6,694.4L864.6,694.4L863.6,692.1L862.6,691.8L861.6,691.1L860.6,693.0L859.6,693.0L858.6,692.3L857.6,691.5L856.6,693.4L855.6,693.4L854.6,690.9L853.6,692.9L852.6,692.9L851.6,691.8L850.6,695.2L849.6,695.2L848.6,693.9L847.6,692.1L846.6,692.1L845.6,693.7L844.6,693.7L843.6,693.1L842.6,692.5L841.6,692.7L840.6,692.7L839.6,693.0L838.6,693.1L837.6,693.4L836.6,693.4L835.6,690.8L834.6,690.8L833.6,690.5L832.6,692.8L831.6,692.8L830.6,692.1L829.6,690.2L828.6,691.5L827.6,691.5L826.6,689.9L825.6,690.5L824.6,690.5L823.6,692.7L822.6,692.7L821.6,690.7L820.6,692.1L819.6,692.4L818.6,692.4L817.6,691.3Z" fill="#008000"/>
<path d="M440.7,698.8L442.5,692.1L816.8,692.9L817.8,685.9" fill="none" stroke="#008000" stroke-width="2.08" stroke-linejoin="round"/>
<path d="M149.0,697.6L150.0,697.6L151.0,697.7L152.0,697.7L153.0,697.3L154.0,697.3L155.0,696.3L156.0,696.3L157.0,697.4L158.0,696.2L159.0,696.2L160.0,696.6L161.0,696.2L162.0,696.2L163.0,697.1L164.0,695.5L165.0,695.5L166.0,696.9L167.0,696.9L168.0,697.8L169.0,697.8L170.0,696.9L171.0,696.3L172.0,696.3L173.0,696.7L174.0,696.5L175.0,696.3L176.0,696.3L177.0,696.4L178.0,696.3L179.0,696.3L180.0,696.8L181.0,695.1L182.0,695.1L183.0,698.5L184.0,698.5L185.0,695.0L186.0,695.0L187.0,696.4L188.0,696.4L189.0,695.5L190.0,695.5L191.0,696.2L192.0,696.2L193.0,695.9L194.0,694.9L195.0,693.9L196.0,693.9L197.0,697.5L198.0,697.5L199.0,698.5L200.0,699.1L201.0,698.2L202.0,696.6L203.0,696.2L204.0,696.2L205.0,697.2L206.0,697.2L207.0,696.9L208.0,695.6L209.0,695.6L210.0,695.4L211.0,695.4L212.0,696.3L213.0,696.0L214.0,695.7L215.0,695.7L216.0,695.9L217.0,695.9L218.0,694.6L219.0,694.6L220.0,697.6L221.0,697.4L222.0,697.4L223.0,697.9L224.0,696.7L225.0,696.6L226.0,696.6L227.0,699.5L228.0,696.1L229.0,696.1L230.0,697.5L231.0,697.5L232.0,697.8L233.0,696.9L234.0,696.9L235.0,698.6L236.0,698.4L237.0,697.7L238.0,697.1L239.0,696.3L240.0,695.7L241.0,695.7L242.0,696.5L243.0,696.1L244.0,696.1L245.0,697.7L246.0,697.7L247.0,697.8L248.0,696.0L249.0,696.0L250.0,698.4L251.0,699.1L252.0,696.1L253.0,696.1L254.0,696.4L255.0,697.1L256.0,697.1L257.0,697.5L258.0,697.0L259.0,697.0L260.0,698.3L261.0,697.3L262.0,696.6L263.0,695.8L264.0,695.8L265.0,696.0L266.0,696.0L267.0,697.6L268.0,697.4L269.0,697.4L270.0,695.0L271.0,695.0L272.0,696.0L273.0,695.4L274.0,695.4L275.0,696.3L276.0,695.3L277.0,695.3L278.0,694.7L279.0,694.7L280.0,698.5L281.0,697.7L282.0,697.7L283.0,697.8L284.0,696.2L285.0,696.2L286.0,697.8L287.0,698.3L288.0,697.1L289.0,697.1L290.0,696.8L291.0,696.8L292.0,696.9L293.0,696.6L294.0,696.6L295.0,695.3L296.0,695.3L297.0,697.6L298.0,696.6L299.0,696.6L300.0,697.3L301.0,698.0L302.0,698.0L303.0,697.7L304.0,696.1L305.0,696.1L306.0,696.6L307.0,696.6L308.0,698.3L309.0,698.4L310.0,697.5L311.0,697.5L312.0,697.8L313.0,696.8L314.0,695.2L315.0,695.2L316.0,694.6L317.0,694.6L318.0,694.8L319.0,696.0L320.0,696.0L321.0,698.0L322.0,697.0L323.0,695.7L324.0,695.7L325.0,696.8L326.0,696.2L327.0,695.4L328.0,695.2L329.0,695.2L330.0,696.3L331.0,696.3L332.0,696.7L333.0,696.4L334.0,696.4L335.0,694.8L336.0,694.8L337.0,696.3L338.0,696.3L339.0,697.6L340.0,692.0L341.0,692.0L342.0,694.5L343.0,694.5L344.0,696.9L345.0,697.5L346.0,692.8L347.0,692.8L348.0,695.0L349.0,696.3L350.0,696.1L351.0,695.0L352.0,695.0L353.0,696.9L354.0,697.6L355.0,696.0L356.0,696.0L357.0,696.5L358.0,697.5L359.0,695.7L360.0,695.7L361.0,696.3L362.0,697.1L363.0,694.5L364.0,694.5L365.0,694.9L366.0,694.3L367.0,694.3L368.0,696.1L369.0,695.4L370.0,695.4L371.0,695.4L372.0,693.3L373.0,693.3L374.0,695.8L375.0,694.3L376.0,694.3L377.0,695.8L378.0,695.8L379.0,695.1L380.0,695.1L381.0,697.7L382.0,697.7L383.0,696.0L384.0,696.0L385.0,695.4L386.0,695.4L387.0,695.8L388.0,695.1L389.0,695.1L390.0,696.2L391.0,695.6L392.0,693.9L393.0,693.9L394.0,691.1L395.0,691.1L396.0,695.4L397.0,693.9L398.0,693.9L399.0,692.9L400.0,692.6L401.0,692.6L402.0,693.4L403.0,693.4L404.0,693.2L405.0,693.2L406.0,693.6L407.0,692.8L408.0,691.4L409.0,691.4L410.0,691.9L411.0,690.7L412.0,690.7L413.0,691.9L414.0,691.9L415.0,692.7L416.0,691.0L417.0,691.0L418.0,691.0L419.0,691.0L420.0,691.4L421.0,691.9L422.0,691.8L423.0,690.1L424.0,690.1L425.0,690.5L426.0,690.0L427.0,689.9L428.0,689.9L429.0,691.3L430.0,691.7L431.0,689.9L432.0,689.9L433.0,690.6L434.0,686.7L435.0,686.7L436.0,691.9L437.0,689.2L438.0,689.2L439.0,691.3L440.0,689.2L441.0,689.2L441.0,701.6L440.0,703.3L439.0,704.1L438.0,704.1L437.0,706.5L436.0,706.5L435.0,703.7L434.0,705.0L433.0,705.2L432.0,705.2L431.0,704.9L430.0,704.9L429.0,703.9L428.0,705.0L427.0,705.0L426.0,705.9L425.0,705.9L424.0,704.7L423.0,704.3L422.0,705.2L421.0,705.8L420.0,705.8L419.0,705.2L418.0,704.3L417.0,706.2L416.0,706.3L415.0,706.3L414.0,704.2L413.0,704.8L412.0,705.3L411.0,705.3L410.0,706.1L409.0,706.1L408.0,706.9L407.0,706.9L406.0,706.0L405.0,706.5L404.0,706.5L403.0,706.3L402.0,709.1L401.0,709.1L400.0,706.7L399.0,709.1L398.0,709.1L397.0,709.0L396.0,709.0L395.0,707.3L394.0,706.8L393.0,708.5L392.0,708.5L391.0,707.9L390.0,708.0L389.0,708.1L388.0,709.3L387.0,709.3L386.0,708.9L385.0,708.9L384.0,709.1L383.0,709.1L382.0,710.3L381.0,710.3L380.0,709.6L379.0,710.2L378.0,710.2L377.0,709.5L376.0,709.5L375.0,708.9L374.0,708.3L373.0,709.9L372.0,709.9L371.0,709.5L370.0,709.5L369.0,708.5L368.0,708.5L367.0,708.0L366.0,708.6L365.0,708.6L364.0,709.8L363.0,710.7L362.0,710.7L361.0,710.7L360.0,708.9L359.0,708.9L358.0,708.6L357.0,708.6L356.0,707.4L355.0,711.6L354.0,711.6L353.0,710.7L352.0,710.7L351.0,709.8L350.0,709.8L349.0,708.8L348.0,710.7L347.0,711.5L346.0,711.5L345.0,711.6L344.0,711.6L343.0,708.1L342.0,711.3L341.0,711.3L340.0,710.2L339.0,709.5L338.0,707.3L337.0,707.3L336.0,709.6L335.0,709.6L334.0,709.0L333.0,710.4L332.0,710.4L331.0,710.4L330.0,710.4L329.0,707.6L328.0,708.5L327.0,709.2L326.0,711.0L325.0,711.0L324.0,709.6L323.0,710.4L322.0,710.4L321.0,710.1L320.0,710.8L319.0,710.8L318.0,709.7L317.0,709.7L316.0,710.8L315.0,710.8L314.0,711.2L313.0,711.2L312.0,709.8L311.0,709.8L310.0,710.5L309.0,710.9L308.0,710.9L307.0,710.5L306.0,710.5L305.0,710.2L304.0,710.2L303.0,709.6L302.0,709.4L301.0,708.0L300.0,708.0L299.0,709.3L298.0,711.1L297.0,711.1L296.0,708.7L295.0,709.7L294.0,709.7L293.0,707.1L292.0,707.2L291.0,708.5L290.0,708.7L289.0,708.7L288.0,711.6L287.0,711.6L286.0,710.6L285.0,710.6L284.0,708.0L283.0,708.6L282.0,709.5L281.0,709.5L280.0,709.3L279.0,708.7L278.0,708.8L277.0,709.4L276.0,709.4L275.0,708.7L274.0,708.7L273.0,708.5L272.0,707.4L271.0,709.0L270.0,711.6L269.0,711.6L268.0,709.3L267.0,709.3L266.0,708.6L265.0,709.2L264.0,709.2L263.0,707.7L262.0,708.7L261.0,710.1L260.0,710.1L259.0,711.6L258.0,711.6L257.0,710.0L256.0,708.1L255.0,708.7L254.0,710.7L253.0,710.7L252.0,708.6L251.0,709.3L250.0,709.9L249.0,709.9L248.0,708.8L247.0,709.9L246.0,710.7L245.0,710.7L244.0,709.3L243.0,709.1L242.0,709.1L241.0,707.9L240.0,711.6L239.0,711.6L238.0,709.0L237.0,710.7L236.0,710.7L235.0,709.7L234.0,710.3L233.0,710.3L232.0,711.6L231.0,711.6L230.0,709.8L229.0,709.9L228.0,709.9L227.0,709.6L226.0,709.6L225.0,708.9L224.0,708.8L223.0,709.0L222.0,709.0L221.0,708.8L220.0,708.7L219.0,709.8L218.0,709.8L217.0,709.5L216.0,710.0L215.0,710.6L214.0,710.6L213.0,710.6L212.0,708.9L211.0,709.1L210.0,709.1L209.0,710.1L208.0,710.1L207.0,707.9L206.0,707.5L205.0,707.3L204.0,709.5L203.0,709.5L202.0,709.9L201.0,709.9L200.0,710.3L199.0,710.3L198.0,708.4L197.0,710.1L196.0,710.1L195.0,708.6L194.0,710.1L193.0,710.1L192.0,707.9L191.0,707.9L190.0,708.0L189.0,708.9L188.0,708.9L187.0,708.9L186.0,708.9L185.0,709.6L184.0,709.6L183.0,708.9L182.0,710.2L181.0,710.2L180.0,709.3L179.0,709.6L178.0,709.6L177.0,709.6L176.0,710.2L175.0,710.2L174.0,709.3L173.0,711.6L172.0,711.6L171.0,710.1L170.0,709.0L169.0,709.0L168.0,709.3L167.0,710.4L166.0,710.4L165.0,710.0L164.0,710.0L163.0,708.9L162.0,709.9L161.0,709.9L160.0,708.3L159.0,708.3L158.0,711.6L157.0,711.6L156.0,710.6L155.0,709.5L154.0,709.8L153.0,710.9L152.0,710.9L151.0,711.6L150.0,711.6L149.0,711.3ZM817.6,676.2L818.6,674.8L819.6,674.8L820.6,675.2L821.6,675.2L822.6,675.2L823.6,676.3L824.6,674.7L825.6,674.7L826.6,675.3L827.6,675.3L828.6,676.0L829.6,676.0L830.6,676.8L831.6,674.3L832.6,674.3L833.6,676.7L834.6,675.2L835.6,674.7L836.6,674.7L837.6,676.2L838.6,675.2L839.6,675.2L840.6,675.3L841.6,675.3L842.6,675.8L843.6,674.5L844.6,674.5L845.6,676.5L846.6,676.0L847.6,675.3L848.6,673.0L849.6,673.0L850.6,674.5L851.6,674.7L852.6,677.2L853.6,674.6L854.6,674.6L855.6,675.7L856.6,674.0L857.6,674.0L858.6,674.1L859.6,674.7L860.6,675.1L861.6,675.8L862.6,674.8L863.6,674.8L864.6,675.9L865.6,677.5L866.6,676.0L867.6,675.3L868.6,675.3L869.6,675.8L870.6,674.6L871.6,674.6L872.6,675.5L873.6,675.5L874.6,676.3L875.6,674.9L876.6,674.9L877.6,675.0L878.6,675.9L879.6,675.3L880.6,675.1L881.6,675.1L882.6,675.1L883.6,675.2L884.6,676.1L885.6,675.4L886.6,675.4L887.6,675.2L888.6,675.2L889.6,676.6L890.6,675.4L891.6,675.4L892.6,675.4L893.6,675.0L894.6,675.0L895.6,675.9L896.6,673.9L897.6,673.9L898.6,675.7L899.6,674.2L900.6,674.2L901.6,675.2L902.6,676.6L903.6,676.6L904.6,676.5L905.6,676.5L906.6,678.1L907.6,675.0L908.6,675.0L909.6,675.6L910.6,676.1L911.6,676.1L912.6,677.3L913.6,676.7L914.6,676.7L915.6,677.2L916.6,677.8L917.6,677.7L918.6,676.2L919.6,676.2L920.6,677.0L921.6,676.4L922.6,676.4L923.6,675.9L924.6,675.9L925.6,677.4L926.6,677.4L927.6,677.3L928.6,677.3L929.6,677.9L930.5,677.4L930.6,677.4L931.6,676.8L932.0,676.8L932.6,679.4L933.6,682.1L933.8,682.1L934.4,680.2L934.6,680.2L935.6,680.9L936.6,679.7L937.6,679.7L938.6,680.9L939.6,680.9L940.6,680.9L941.0,680.0L941.6,680.0L942.5,683.5L942.6,684.3L943.6,684.3L944.6,686.5L945.6,686.5L946.6,686.5L947.6,687.0L948.6,687.5L949.6,687.8L950.6,687.8L951.6,686.9L952.6,686.9L953.6,687.4L954.6,686.1L955.6,686.1L956.6,687.9L957.6,687.9L958.6,688.1L959.6,686.7L960.6,686.7L961.6,688.2L962.6,687.0L963.6,687.0L964.6,690.5L965.6,690.3L966.6,689.2L967.6,688.4L968.6,688.4L969.6,688.0L970.6,688.0L971.6,688.1L972.6,690.3L973.6,690.3L974.6,689.2L975.6,689.2L976.6,688.9L977.6,688.7L978.6,688.7L979.6,689.4L980.6,690.2L981.6,689.9L982.6,689.9L983.6,690.0L984.6,690.5L985.6,689.5L986.6,689.5L987.6,690.2L988.6,689.9L989.6,689.4L990.6,689.4L991.6,689.6L992.6,690.1L993.6,690.1L994.6,690.5L995.6,691.0L996.6,691.2L997.6,690.8L998.6,690.6L999.6,690.0L1000.6,690.0L1001.6,691.2L1002.6,689.3L1003.6,689.0L1004.6,689.0L1004.8,690.3L1005.4,681.7L1005.6,681.7L1006.6,683.0L1007.6,683.0L1008.6,683.5L1009.6,684.1L1010.6,684.1L1011.6,684.5L1012.6,684.5L1013.6,682.7L1014.6,682.7L1015.6,684.3L1016.6,683.3L1017.6,683.3L1018.6,686.2L1019.6,686.2L1020.6,686.3L1021.6,686.3L1022.6,685.5L1023.6,685.5L1024.6,686.3L1025.6,686.2L1026.6,686.2L1027.6,686.2L1028.6,686.2L1029.6,686.2L1030.6,687.7L1031.6,688.0L1032.6,687.4L1033.6,687.4L1034.6,689.0L1035.6,688.2L1036.6,688.2L1037.6,687.2L1038.6,687.2L1039.6,688.3L1040.6,688.3L1041.6,690.6L1042.6,690.6L1043.6,689.7L1044.6,689.1L1045.6,689.1L1046.6,689.5L1047.6,690.2L1048.6,692.0L1049.6,691.2L1050.6,691.1L1051.6,691.1L1052.6,693.3L1053.6,693.3L1054.6,690.8L1055.6,690.8L1056.6,692.0L1057.6,692.0L1058.6,692.4L1059.6,692.4L1060.6,692.5L1061.6,692.0L1062.6,692.0L1063.6,692.5L1064.6,692.5L1065.6,692.5L1066.6,693.3L1067.6,693.9L1068.6,691.8L1069.6,691.8L1070.6,694.7L1071.6,693.6L1072.6,693.4L1073.6,693.4L1074.6,693.5L1075.6,692.9L1076.6,691.9L1077.6,691.9L1078.6,692.2L1079.6,694.8L1080.6,694.3L1080.6,707.6L1079.6,708.4L1078.6,710.2L1077.6,710.2L1076.6,708.0L1075.6,706.9L1074.6,707.7L1073.6,708.3L1072.6,708.3L1071.6,707.3L1070.6,707.5L1069.6,707.5L1068.6,706.5L1067.6,706.4L1066.6,706.4L1065.6,706.4L1064.6,706.0L1063.6,708.6L1062.6,708.6L1061.6,707.3L1060.6,707.3L1059.6,707.6L1058.6,707.6L1057.6,704.8L1056.6,707.0L1055.6,707.0L1054.6,704.5L1053.6,704.5L1052.6,704.3L1051.6,704.3L1050.6,704.8L1049.6,704.8L1048.6,702.8L1047.6,702.8L1046.6,702.0L1045.6,705.9L1044.6,705.9L1043.6,703.0L1042.6,702.4L1041.6,702.4L1040.6,700.8L1039.6,699.7L1038.6,698.8L1037.6,700.2L1036.6,700.2L1035.6,699.6L1034.6,699.6L1033.6,698.2L1032.6,698.4L1031.6,698.4L1030.6,698.7L1029.6,699.2L1028.6,699.2L1027.6,699.1L1026.6,697.6L1025.6,700.4L1024.6,700.4L1023.6,699.8L1022.6,699.2L1021.6,699.2L1020.6,698.0L1019.6,697.8L1018.6,699.1L1017.6,699.8L1016.6,699.8L1015.6,698.2L1014.6,698.2L1013.6,696.7L1012.6,695.8L1011.6,695.3L1010.6,698.0L1009.6,698.0L1008.6,697.4L1007.6,696.5L1006.6,698.6L1005.6,698.6L1005.4,702.6L1004.8,702.6L1004.6,702.8L1003.6,704.1L1002.6,704.1L1001.6,702.4L1000.6,703.0L999.6,703.0L998.6,703.7L997.6,703.7L996.6,702.5L995.6,702.5L994.6,702.1L993.6,702.9L992.6,702.9L991.6,702.1L990.6,701.9L989.6,701.9L988.6,701.6L987.6,701.5L986.6,703.1L985.6,703.1L984.6,701.1L983.6,701.9L982.6,701.9L981.6,701.8L980.6,699.7L979.6,701.8L978.6,701.8L977.6,701.5L976.6,701.5L975.6,701.5L974.6,701.5L973.6,700.4L972.6,701.2L971.6,702.7L970.6,702.9L969.6,702.9L968.6,700.8L967.6,702.9L966.6,702.9L965.6,701.8L964.6,702.6L963.6,702.6L962.6,701.5L961.6,702.4L960.6,702.4L959.6,701.6L958.6,700.9L957.6,700.9L956.6,701.5L955.6,701.5L954.6,700.4L953.6,701.2L952.6,701.5L951.6,701.8L950.6,701.8L949.6,701.0L948.6,700.7L947.6,700.2L946.6,700.2L945.6,700.4L944.6,700.8L943.6,700.8L942.6,699.6L942.5,698.9L941.6,699.0L941.0,699.7L940.6,699.7L939.6,699.4L938.6,698.5L937.6,697.3L936.6,696.4L935.6,696.0L934.6,696.0L934.4,696.4L933.8,696.4L933.6,696.4L932.6,695.9L932.0,695.9L931.6,695.5L930.6,691.4L930.5,692.1L929.6,692.2L928.6,692.2L927.6,690.8L926.6,693.4L925.6,693.4L924.6,692.1L923.6,691.1L922.6,691.8L921.6,694.0L920.6,694.0L919.6,691.0L918.6,691.8L917.6,691.8L916.6,691.4L915.6,691.7L914.6,691.7L913.6,693.9L912.6,693.9L911.6,689.8L910.6,693.3L909.6,693.3L908.6,690.7L907.6,689.5L906.6,689.4L905.6,691.1L904.6,691.1L903.6,690.8L902.6,689.9L901.6,690.4L900.6,690.4L899.6,690.1L898.6,690.1L897.6,690.3L896.6,690.3L895.6,692.2L894.6,692.2L893.6,690.1L892.6,690.7L891.6,690.7L890.6,689.1L889.6,689.3L888.6,691.9L887.6,691.9L886.6,691.6L885.6,690.9L884.6,690.2L883.6,690.4L882.6,690.4L881.6,690.0L880.6,690.1L879.6,690.1L878.6,689.5L877.6,688.4L876.6,690.9L875.6,690.9L874.6,689.3L873.6,691.8L872.6,691.8L871.6,690.4L870.6,690.4L869.6,688.2L868.6,688.1L867.6,690.3L866.6,690.3L865.6,689.3L864.6,688.7L863.6,688.4L862.6,688.4L861.6,687.6L860.6,690.3L859.6,690.3L858.6,688.5L857.6,688.5L856.6,689.2L855.6,689.2L854.6,686.6L853.6,689.6L852.6,689.6L851.6,688.0L850.6,689.0L849.6,689.0L848.6,689.4L847.6,689.4L846.6,688.8L845.6,688.8L844.6,686.9L843.6,689.2L842.6,689.2L841.6,690.0L840.6,690.0L839.6,687.9L838.6,687.9L837.6,690.7L836.6,690.7L835.6,691.9L834.6,691.9L833.6,689.9L832.6,689.9L831.6,688.8L830.6,690.1L829.6,690.1L828.6,688.7L827.6,688.7L826.6,690.4L825.6,690.4L824.6,687.7L823.6,689.4L822.6,690.1L821.6,690.1L820.6,689.2L819.6,689.2L818.6,689.1L817.6,689.1Z" fill="#ff0000"/>
<path d="M440.7,695.4L442.5,687.2L816.8,687.0L817.8,682.7" fill="none" stroke="#ff0000" stroke-width="2.08" stroke-linejoin="round"/>
</g>
<g shape-rendering="crispEdges">
<rect x="149" y="96" width="1" height="617" fill="#000" fill-opacity="0.055"/><rect x="151" y="97" width="1" height="615" fill="#000" fill-opacity="0.075"/><rect x="1079" y="97" width="1" height="615" fill="#000" fill-opacity="0.075"/><rect x="1081" y="96" width="1" height="617" fill="#000" fill-opacity="0.055"/><rect x="150" y="95" width="931" height="1" fill="#000" fill-opacity="0.055"/><rect x="151" y="97" width="929" height="1" fill="#000" fill-opacity="0.075"/><rect x="151" y="711" width="929" height="1" fill="#000" fill-opacity="0.075"/><rect x="150" y="713" width="931" height="1" fill="#000" fill-opacity="0.055"/>
<rect x="150" y="96" width="1" height="617" fill="#000"/>
<rect x="1080" y="96" width="1" height="617" fill="#000"/>
<rect x="150" y="96" width="931" height="1" fill="#000"/>
<rect x="150" y="712" width="931" height="1" fill="#000"/>
<rect x="150" y="712" width="1" height="5" fill="#000"/><rect x="150" y="717" width="1" height="1" fill="#000" fill-opacity="0.5"/><rect x="149" y="713" width="1" height="4" fill="#000" fill-opacity="0.055"/><rect x="151" y="713" width="1" height="4" fill="#000" fill-opacity="0.055"/>
<rect x="266" y="712" width="1" height="5" fill="#000"/><rect x="266" y="717" width="1" height="1" fill="#000" fill-opacity="0.5"/><rect x="265" y="713" width="1" height="4" fill="#000" fill-opacity="0.055"/><rect x="267" y="713" width="1" height="4" fill="#000" fill-opacity="0.055"/>
<rect x="383" y="712" width="1" height="5" fill="#000"/><rect x="383" y="717" width="1" height="1" fill="#000" fill-opacity="0.5"/><rect x="382" y="713" width="1" height="4" fill="#000" fill-opacity="0.055"/><rect x="384" y="713" width="1" height="4" fill="#000" fill-opacity="0.055"/>
<rect x="499" y="712" width="1" height="5" fill="#000"/><rect x="499" y="717" width="1" height="1" fill="#000" fill-opacity="0.5"/><rect x="498" y="713" width="1" height="4" fill="#000" fill-opacity="0.055"/><rect x="500" y="713" width="1" height="4" fill="#000" fill-opacity="0.055"/>
<rect x="615" y="712" width="1" height="5" fill="#000"/><rect x="615" y="717" width="1" height="1" fill="#000" fill-opacity="0.5"/><rect x="614" y="713" width="1" height="4" fill="#000" fill-opacity="0.055"/><rect x="616" y="713" width="1" height="4" fill="#000" fill-opacity="0.055"/>
<rect x="731" y="712" width="1" height="5" fill="#000"/><rect x="731" y="717" width="1" height="1" fill="#000" fill-opacity="0.5"/><rect x="730" y="713" width="1" height="4" fill="#000" fill-opacity="0.055"/><rect x="732" y="713" width="1" height="4" fill="#000" fill-opacity="0.055"/>
<rect x="848" y="712" width="1" height="5" fill="#000"/><rect x="848" y="717" width="1" height="1" fill="#000" fill-opacity="0.5"/><rect x="847" y="713" width="1" height="4" fill="#000" fill-opacity="0.055"/><rect x="849" y="713" width="1" height="4" fill="#000" fill-opacity="0.055"/>
<rect x="964" y="712" width="1" height="5" fill="#000"/><rect x="964" y="717" width="1" height="1" fill="#000" fill-opacity="0.5"/><rect x="963" y="713" width="1" height="4" fill="#000" fill-opacity="0.055"/><rect x="965" y="713" width="1" height="4" fill="#000" fill-opacity="0.055"/>
<rect x="1080" y="712" width="1" height="5" fill="#000"/><rect x="1080" y="717" width="1" height="1" fill="#000" fill-opacity="0.5"/><rect x="1079" y="713" width="1" height="4" fill="#000" fill-opacity="0.055"/><rect x="1081" y="713" width="1" height="4" fill="#000" fill-opacity="0.055"/>
<rect x="145" y="712" width="5" height="1" fill="#000"/><rect x="144" y="712" width="1" height="1" fill="#000" fill-opacity="0.5"/><rect x="145" y="711" width="4" height="1" fill="#000" fill-opacity="0.055"/><rect x="145" y="713" width="4" height="1" fill="#000" fill-opacity="0.055"/>
<rect x="145" y="624" width="5" height="1" fill="#000"/><rect x="144" y="624" width="1" height="1" fill="#000" fill-opacity="0.5"/><rect x="145" y="623" width="4" height="1" fill="#000" fill-opacity="0.055"/><rect x="145" y="625" width="4" height="1" fill="#000" fill-opacity="0.055"/>
<rect x="145" y="536" width="5" height="1" fill="#000"/><rect x="144" y="536" width="1" height="1" fill="#000" fill-opacity="0.5"/><rect x="145" y="535" width="4" height="1" fill="#000" fill-opacity="0.055"/><rect x="145" y="537" width="4" height="1" fill="#000" fill-opacity="0.055"/>
<rect x="145" y="448" width="5" height="1" fill="#000"/><rect x="144" y="448" width="1" height="1" fill="#000" fill-opacity="0.5"/><rect x="145" y="447" width="4" height="1" fill="#000" fill-opacity="0.055"/><rect x="145" y="449" width="4" height="1" fill="#000" fill-opacity="0.055"/>
<rect x="145" y="360" width="5" height="1" fill="#000"/><rect x="144" y="360" width="1" height="1" fill="#000" fill-opacity="0.5"/><rect x="145" y="359" width="4" height="1" fill="#000" fill-opacity="0.055"/><rect x="145" y="361" width="4" height="1" fill="#000" fill-opacity="0.055"/>
<rect x="145" y="272" width="5" height="1" fill="#000"/><rect x="144" y="272" width="1" height="1" fill="#000" fill-opacity="0.5"/><rect x="145" y="271" width="4" height="1" fill="#000" fill-opacity="0.055"/><rect x="145" y="273" width="4" height="1" fill="#000" fill-opacity="0.055"/>
<rect x="145" y="184" width="5" height="1" fill="#000"/><rect x="144" y="184" width="1" height="1" fill="#000" fill-opacity="0.5"/><rect x="145" y="183" width="4" height="1" fill="#000" fill-opacity="0.055"/><rect x="145" y="185" width="4" height="1" fill="#000" fill-opacity="0.055"/>
<rect x="145" y="96" width="5" height="1" fill="#000"/><rect x="144" y="96" width="1" height="1" fill="#000" fill-opacity="0.5"/><rect x="145" y="95" width="4" height="1" fill="#000" fill-opacity="0.055"/><rect x="145" y="97" width="4" height="1" fill="#000" fill-opacity="0.055"/>
</g>
<g font-size="24.28"><text x="143.28" y="739.70">0</text></g>
<g font-size="24.28"><text transform="translate(259.87,739.70) scale(0.956,1)">3</text></g>
<g font-size="24.28"><text transform="translate(375.46,739.70) scale(1.030,1)">6</text></g>
<g font-size="24.28"><text transform="translate(491.82,739.70) scale(1.028,1)">9</text></g>
<g font-size="24.28"><text transform="translate(601.07,739.70) scale(0.950,1)">1</text><text transform="translate(615.40,739.70) scale(0.959,1)">2</text></g>
<g font-size="24.28"><text transform="translate(717.17,739.70) scale(0.950,1)">1</text><text transform="translate(731.85,739.70) scale(0.939,1)">5</text></g>
<g font-size="24.28"><text transform="translate(833.20,739.70) scale(0.950,1)">1</text><text x="847.52" y="739.70">8</text></g>
<g font-size="24.28"><text transform="translate(949.90,739.70) scale(0.959,1)">2</text><text transform="translate(964.73,739.70) scale(0.950,1)">1</text></g>
<g font-size="24.28"><text transform="translate(1065.73,739.70) scale(0.959,1)">2</text><text x="1080.37" y="739.70">4</text></g>
<g font-size="24.28"><text x="126.28" y="720.70">0</text></g>
<g font-size="24.28"><text transform="translate(126.02,632.70) scale(0.959,1)">2</text></g>
<g font-size="24.28"><text x="126.36" y="544.70">4</text></g>
<g font-size="24.28"><text transform="translate(126.46,456.70) scale(1.030,1)">6</text></g>
<g font-size="24.28"><text x="126.21" y="368.70">8</text></g>
<g font-size="24.28"><text transform="translate(112.18,280.70) scale(0.950,1)">1</text><text x="126.57" y="280.70">0</text></g>
<g font-size="24.28"><text transform="translate(112.07,192.70) scale(0.950,1)">1</text><text transform="translate(126.40,192.70) scale(0.959,1)">2</text></g>
<g font-size="24.28"><text transform="translate(112.06,104.70) scale(0.950,1)">1</text><text x="126.45" y="104.70">4</text></g>
<g font-size="22.08"><text transform="translate(332.29,88.09) scale(0.932,1)">N</text><text transform="translate(347.73,88.09) scale(1.025,1)">Z</text><text x="361.44" y="88.09">-</text><text transform="translate(368.69,88.09) scale(0.930,1)">W</text><text transform="translate(387.67,88.09) scale(0.950,1)">A</text><text x="401.82" y="88.09">I</text><text transform="translate(408.36,88.09) scale(0.902,1)">R</text><text transform="translate(421.70,88.09) scale(0.950,1)">A</text><text transform="translate(436.15,88.09) scale(0.952,1)">K</text><text transform="translate(450.06,88.09) scale(0.818,1)">E</text><text x="462.67" y="88.09">I</text><text x="468.82" y="88.09">-</text><text transform="translate(476.59,88.09) scale(0.976,1)">D</text><text transform="translate(492.64,88.09) scale(0.971,1)">L</text><text transform="translate(504.38,88.09) scale(0.902,1)">R</text><text x="525.28" y="88.09">o</text><text transform="translate(537.90,88.09) scale(1.239,1)">f</text><text transform="translate(552.23,88.09) scale(0.959,1)">2</text><text x="565.54" y="88.09">0</text><text transform="translate(578.74,88.09) scale(0.959,1)">2</text><text transform="translate(591.83,88.09) scale(1.029,1)">6</text><text transform="translate(604.78,88.09) scale(1.144,1)">/</text><text x="612.32" y="88.09">0</text><text transform="translate(625.52,88.09) scale(0.959,1)">2</text><text transform="translate(638.31,88.09) scale(1.144,1)">/</text><text x="645.85" y="88.09">0</text><text transform="translate(659.37,88.09) scale(0.955,1)">3</text><text transform="translate(679.37,88.09) scale(0.954,1)">w</text><text transform="translate(696.04,88.09) scale(0.964,1)">i</text><text transform="translate(701.43,88.09) scale(1.261,1)">t</text><text transform="translate(709.78,88.09) scale(1.024,1)">h</text><text transform="translate(729.37,88.09) scale(1.239,1)">f</text><text x="736.84" y="88.09">o</text><text transform="translate(749.62,88.09) scale(0.947,1)">c</text><text x="761.13" y="88.09">u</text><text transform="translate(774.59,88.09) scale(0.904,1)">s</text><text transform="translate(791.76,88.09) scale(0.947,1)">c</text><text x="803.17" y="88.09">o</text><text transform="translate(815.90,88.09) scale(1.025,1)">d</text><text x="829.11" y="88.09">e</text><text transform="translate(849.26,88.09) scale(1.216,1)">=</text><text x="872.95" y="88.09">0</text><text transform="translate(886.38,88.09) scale(0.950,1)">1</text></g>
<g font-size="22.08"><text transform="translate(519.70,766.09) scale(0.927,1)">U</text><text x="535.12" y="766.09">n</text><text transform="translate(548.46,766.09) scale(0.964,1)">i</text><text x="554.25" y="766.09">v</text><text x="566.23" y="766.09">e</text><text transform="translate(578.97,766.09) scale(1.209,1)">r</text><text transform="translate(587.99,766.09) scale(0.904,1)">s</text><text transform="translate(598.73,766.09) scale(0.848,1)">a</text><text transform="translate(611.57,766.09) scale(0.964,1)">l</text><text transform="translate(622.88,766.09) scale(1.029,1)">T</text><text transform="translate(636.07,766.09) scale(0.964,1)">i</text><text transform="translate(641.64,766.09) scale(1.075,1)">m</text><text x="661.81" y="766.09">e</text><text x="681.30" y="766.09">[</text><text transform="translate(689.51,766.09) scale(1.024,1)">h</text><text x="704.24" y="766.09">]</text></g>
<g font-size="22.08" transform="translate(101.30,0.00) rotate(-90)"><text transform="translate(-469.68,0.00) scale(0.931,1)">Y</text><text x="-458.91" y="0.00">-</text><text transform="translate(-451.32,0.00) scale(1.239,1)">f</text><text transform="translate(-443.62,0.00) scale(0.848,1)">a</text><text transform="translate(-431.05,0.00) scale(0.947,1)">c</text><text transform="translate(-419.72,0.00) scale(1.261,1)">t</text><text x="-411.47" y="0.00">o</text><text transform="translate(-398.82,0.00) scale(1.209,1)">r</text><text x="-383.51" y="0.00">[</text><text transform="translate(-375.43,0.00) scale(1.025,1)">d</text><text transform="translate(-362.02,0.00) scale(0.917,1)">B</text><text x="-346.26" y="0.00">]</text></g>
<rect x="907.6" y="104.5" width="164.75" height="74.7" rx="2.2" ry="2.2" fill="#fff" fill-opacity="0.8" stroke="#cccccc" stroke-opacity="0.8" stroke-width="1.1"/>
<line x1="913" y1="117" x2="948" y2="117" stroke="#0000ff" stroke-width="2.08"/>
<line x1="913" y1="141" x2="948" y2="141" stroke="#008000" stroke-width="2.08"/>
<line x1="913" y1="164" x2="948" y2="164" stroke="#ff0000" stroke-width="2.08"/>
<g font-size="17.66"><text transform="translate(960.66,124.05) scale(0.950,1)">1</text><text x="971.12" y="124.05">0</text><text x="981.67" y="124.05">8</text><text x="992.28" y="124.05">8</text><text transform="translate(1002.66,124.05) scale(1.021,1)">.</text><text transform="translate(1008.02,124.05) scale(1.028,1)">9</text><text transform="translate(1023.99,124.05) scale(0.941,1)">M</text><text transform="translate(1038.38,124.05) scale(0.939,1)">H</text><text x="1050.63" y="124.05">z</text></g>
<g font-size="17.66"><text transform="translate(960.66,147.05) scale(0.950,1)">1</text><text transform="translate(971.08,147.05) scale(0.959,1)">2</text><text transform="translate(981.94,147.05) scale(0.955,1)">3</text><text transform="translate(992.40,147.05) scale(0.973,1)">7</text><text transform="translate(1002.66,147.05) scale(1.021,1)">.</text><text x="1008.23" y="147.05">4</text><text transform="translate(1023.99,147.05) scale(0.941,1)">M</text><text transform="translate(1038.38,147.05) scale(0.939,1)">H</text><text x="1050.63" y="147.05">z</text></g>
<g font-size="17.66"><text transform="translate(960.66,171.05) scale(0.950,1)">1</text><text x="971.12" y="171.05">4</text><text transform="translate(981.86,171.05) scale(0.950,1)">1</text><text transform="translate(992.54,171.05) scale(0.955,1)">3</text><text transform="translate(1002.66,171.05) scale(1.021,1)">.</text><text x="1008.23" y="171.05">4</text><text transform="translate(1023.99,171.05) scale(0.941,1)">M</text><text transform="translate(1038.38,171.05) scale(0.939,1)">H</text><text x="1050.63" y="171.05">z</text></g>
</svg>
</body></html>
